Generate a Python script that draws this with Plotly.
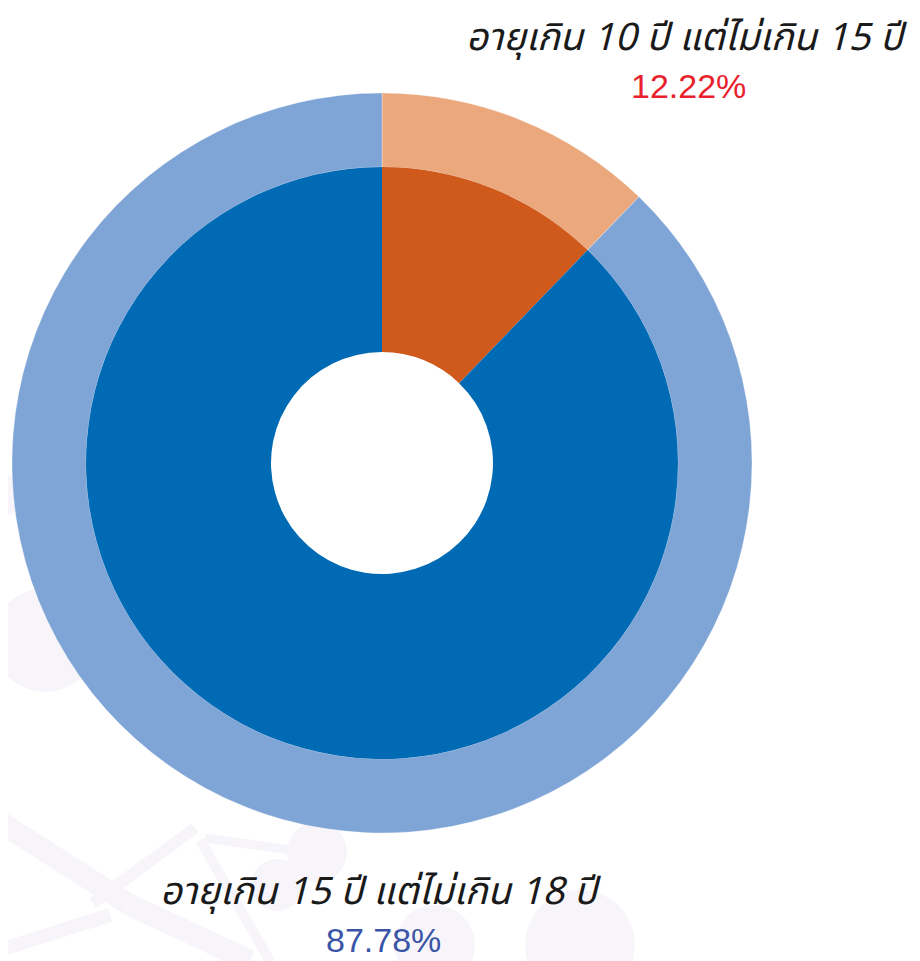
import plotly.graph_objects as go

categories = ["อายุเกิน 10 ปี แต่ไม่เกิน 15 ปี", "อายุเกิน 15 ปี แต่ไม่เกิน 18 ปี"]
values = [12.22, 87.78]
pct_labels = ["12.22%", "87.78%"]

outer_colors = ["#eba87d", "#7fa4d6"]
inner_colors = ["#cf5a1c", "#006ab5"]
pct_colors = ["#e8212c", "#3a55a6"]

# the page body has an 8px margin, so the figure starts at (8, 8) on screen
OFF = 8
W, H = 920 - OFF, 961 - OFF
cx, cy = 382 - OFF, 463 - OFF
r_outer, r_inner, r_hole = 370, 296, 111

def dom(r):
    return dict(x=[(cx - r) / W, (cx + r) / W], y=[1 - (cy + r) / H, 1 - (cy - r) / H])

fig = go.Figure()
fig.add_trace(go.Pie(
    labels=categories, values=values, sort=False, direction="clockwise", rotation=0,
    hole=r_inner / r_outer, domain=dom(r_outer),
    marker=dict(colors=outer_colors, line=dict(color="rgba(255,255,255,0.6)", width=0.5)),
    textinfo="none", hoverinfo="label+value", showlegend=False,
))
fig.add_trace(go.Pie(
    labels=categories, values=values, sort=False, direction="clockwise", rotation=0,
    hole=r_hole / r_inner, domain=dom(r_inner),
    marker=dict(colors=inner_colors, line=dict(width=0)),
    textinfo="none", hoverinfo="label+value", showlegend=False,
))

# faint background decoration
bg = "#f7f5fa"
shapes = []
for (x0, y0, x1, y1, w) in [(0, 822, 130, 905, 22), (130, 905, 250, 961, 22), (0, 950, 110, 915, 14),
                             (93, 903, 195, 828, 12), (200, 840, 270, 961, 10), (205, 838, 305, 852, 9)]:
    shapes.append(dict(type="line", xref="paper", yref="paper", x0=(x0 - OFF) / W, y0=1 - (y0 - OFF) / H,
                       x1=(x1 - OFF) / W, y1=1 - (y1 - OFF) / H, line=dict(color=bg, width=w), layer="below"))
for (x, y, r) in [(317, 852, 30), (277, 885, 26), (435, 945, 40), (580, 945, 55), (45, 640, 52), (0, 495, 22)]:
    x, y = x - OFF, y - OFF
    shapes.append(dict(type="circle", xref="paper", yref="paper", x0=(x - r) / W, x1=(x + r) / W,
                       y0=1 - (y + r) / H, y1=1 - (y - r) / H, fillcolor=bg, line=dict(width=0), layer="below"))

label_pos = [(686, 38, 688, 86), (380, 892, 383, 940)]
annotations = []
for i in range(2):
    lx, ly, px, py = [v - OFF for v in label_pos[i]]
    annotations.append(dict(text="<i>" + categories[i] + "</i>", x=lx / W, y=1 - ly / H, xref="paper", yref="paper",
                            showarrow=False, font=dict(size=38, color="#1a1a1a", family="Noto Sans Thai, Loma, Garuda, Noto Sans, sans-serif"),
                            xanchor="center", yanchor="middle"))
    annotations.append(dict(text=pct_labels[i], x=px / W, y=1 - py / H, xref="paper", yref="paper",
                            showarrow=False, font=dict(size=34, color=pct_colors[i], family="Liberation Sans, Arial, sans-serif"),
                            xanchor="center", yanchor="middle"))

fig.update_layout(width=W, height=H, margin=dict(l=0, r=0, t=0, b=0),
                  paper_bgcolor="white", plot_bgcolor="white",
                  shapes=shapes, annotations=annotations)
fig.write_html("out.html")
